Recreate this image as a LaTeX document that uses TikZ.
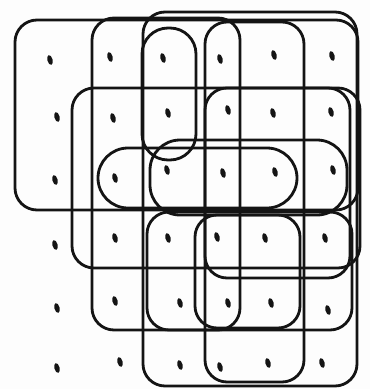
\documentclass[tikz,border=0pt]{standalone}
\usetikzlibrary{positioning}
\definecolor{ink}{HTML}{141414}
\definecolor{paper}{HTML}{FDFDFD}

\begin{document}
\begin{tikzpicture}[
    x=1pt, y=-1pt,
    loop/.style={draw=ink, line width=2.8pt, rounded corners=22pt},
    arch/.style={loop, rounded corners=26pt},
    tick/.style={fill=ink},
  ]

  % Background
  \fill[paper] (0,0) rectangle (370,389);
  \useasboundingbox (0,0) rectangle (370,389);

  % Grid of marks
  \foreach \x/\y in {50/60, 110/57, 163/58, 220/59, 274/55, 332/56,
                     57/117, 113/118, 168/113, 228/110, 273/113, 331/112,
                     55/180, 115/178, 167/170, 223/173, 275/172, 333/170,
                     55/245, 115/238, 168/238, 217/237, 265/238, 325/238,
                     57/308, 115/301, 180/303, 228/303, 271/303, 328/310,
                     57/368, 120/362, 180/365, 220/367, 268/363, 322/363}
    \fill[tick, rotate around={15:(\x,\y)}] (\x,\y) ellipse (2.6pt and 5pt);

  % Row bands
  \draw[loop] (15,20) rectangle (358,210);
  \draw[loop] (72,88) rectangle (360,268);
  \draw[loop, rounded corners=30pt] (98,148) rectangle (297,208);
  \draw[loop, rounded corners=30pt] (150,140) rectangle (347,215);
  \draw[loop] (147,212) rectangle (352,330);

  % Column bands
  \draw[loop] (92,18) rectangle (240,330);
  \draw[loop] (143,12) rectangle (357,386);
  \draw[loop] (205,22) rectangle (304,382);
  \draw[arch] (142,28) rectangle (196,160);

  % Small blocks
  \draw[loop] (205,88) rectangle (350,278);
  \draw[loop] (195,215) rectangle (300,328);

\end{tikzpicture}
\end{document}
